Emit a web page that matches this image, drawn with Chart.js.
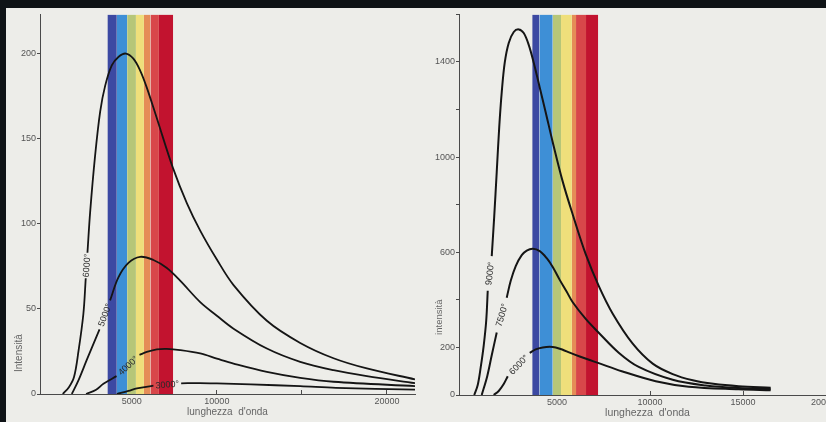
<!DOCTYPE html>
<html>
<head>
<meta charset="utf-8">
<script src="https://cdn.jsdelivr.net/npm/chart.js@4/dist/chart.umd.min.js"></script>
<style>
  html, body { margin: 0; padding: 0; width: 826px; height: 422px; overflow: hidden; background: #0f1316; }
  #page { position: absolute; left: 6px; top: 8px; width: 840px; height: 414px; background: #edede9; }
  #left { position: absolute; left: 0; top: 0; }
  #right { position: absolute; left: 414px; top: 0; }
</style>
</head>
<body>
<div id="page">
  <canvas id="left" width="414" height="414"></canvas>
  <canvas id="right" width="426" height="414"></canvas>
</div>
<script>
// ---- Left panel: black-body curves, 3000°–6000° (wavelength in Å, intensity) ----
// a null intensity marks the break in the curve where its temperature label sits
const leftCurve6000 = [[940,0],[1300,4],[1600,10],[1860,25],[2150,47],[2290,68],[2340,null],[2390,83],[2550,107],[2840,140],[3140,166],[3430,181],[3820,193],[4210,198],[4650,200],[5090,197],[5490,190],[5880,180],[6470,162],[7410,133],[8240,112],[9020,96],[10000,79],[10980,64],[12940,43],[14900,30],[16860,21],[18820,15],[21650,8.6]];
const leftCurve5000 = [[1470,0],[1860,8],[2350,20],[3100,38],[3400,null],[3720,55],[4210,68.5],[4800,77],[5490,80.6],[6270,78.7],[7060,74],[7840,66.6],[9020,54],[10000,46],[10980,38.4],[12940,26.7],[14900,18.9],[16860,14],[18820,10.5],[21650,6.4]];
const leftCurve4000 = [[2310,0],[2900,2.5],[3330,6],[4100,10.5],[4800,null],[5450,23],[5880,24.7],[6470,26.2],[7060,26.5],[7840,25.8],[9020,23.8],[10000,20.8],[10980,17.9],[12940,13],[14900,9.5],[16860,7.2],[21650,4.6]];
const leftCurve3000 = [[4120,0],[4800,1.8],[5300,3.3],[6270,4.9],[7100,null],[7900,6.3],[9000,6.4],[10000,6.2],[12000,5.6],[14900,4.6],[17000,3.6],[21650,2.6]];
const leftCurveNames = ['6000°', '5000°', '4000°', '3000°'];
const leftBandEdges = [3565, 4118, 4724, 5241, 5712, 6094, 6594, 7430];
const leftXTicks = [5000, 10000, 15000, 20000];
const leftXLabels = [5000, 10000, 20000];
const leftYTicks = [0, 50, 100, 150, 200];
const leftYLabels = [0, 50, 100, 150, 200];

// ---- Right panel: black-body curves, 6000°–9000° ----
const rightCurve9000 = [[549,0],[737,42],[898,117],[1060,209],[1194,313],[1275,438],[1380,null],[1490,584],[1624,751],[1759,938],[1893,1126],[2027,1272],[2189,1397],[2404,1480],[2673,1526],[2941,1537],[3210,1522],[3479,1472],[3748,1397],[4070,1293],[4393,1188],[4769,1063],[5307,897],[5844,759],[6543,592],[7242,459],[7995,342],[9070,216],[10145,132],[11220,88],[12300,62],[13400,47],[14768,37],[16489,31]];
const rightCurve7500 = [[952,0],[1248,79],[1490,167],[1759,263],[2030,null],[2296,409],[2511,480],[2780,542],[3103,588],[3371,607],[3694,615],[4070,605],[4447,575],[4769,538],[5145,484],[5522,434],[5844,390],[6543,320],[7242,262],[8317,178],[9393,118],[11220,64],[12994,40],[14768,29],[16489,25]];
const rightCurve6000 = [[1597,0],[1866,17],[2135,46],[2350,79],[2940,null],[3533,177],[3855,192],[4232,200],[4608,203],[4930,200],[5307,190],[5683,178],[6221,162],[6758,147],[7242,134],[8479,100],[10306,58],[12081,35],[14768,24],[16489,20]];
const rightCurveNames = ['9000°', '7500°', '6000°'];
const rightBandEdges = [3667, 4054, 4769, 5215, 5801, 6022, 6559, 7215];
const rightXTicks = [-270, 5000, 10000, 15000, 20000];
const rightXLabels = [5000, 10000, 15000, 20000];
const rightYTicks = [0, 200, 400, 600, 800, 1000, 1200, 1400, 1600];
const rightYLabels = [0, 200, 600, 1000, 1400];

// visible-spectrum stripes, violet to red
const spectrumColors = ['#3c49a2', '#3e8fd6', '#b6c678', '#efdf7b', '#e58d57', '#d8474a', '#c2132f'];

Chart.defaults.font.family = '"Liberation Sans", Arial, sans-serif';
Chart.defaults.color = '#555';

const toPoints = arr => arr.map(([x, y]) => ({ x, y }));

function spectrumDatasets(edges, top) {
  return spectrumColors.map((c, i) => ({
    data: [{ x: edges[i], y: top }, { x: edges[i + 1], y: top }],
    fill: 'origin',
    backgroundColor: c,
    borderWidth: 0,
    pointRadius: 0,
    tension: 0,
    order: 10
  }));
}

function curveDatasets(curves, names, width) {
  return curves.map((c, i) => ({
    data: toPoints(c),
    curveLabel: names[i],
    borderColor: '#151515',
    borderWidth: width,
    pointRadius: 0,
    fill: false,
    spanGaps: false,
    tension: 0.35,
    order: 1
  }));
}

// temperature labels written into the gap of each curve, along its direction
const curveLabels = {
  id: 'curveLabels',
  afterDatasetsDraw(chart) {
    const { ctx, scales: { x, y } } = chart;
    chart.data.datasets.forEach(ds => {
      if (!ds.curveLabel) return;
      const i = ds.data.findIndex(p => p.y === null);
      const a = ds.data[i - 1], b = ds.data[i + 1];
      const ax = x.getPixelForValue(a.x), ay = y.getPixelForValue(a.y);
      const bx = x.getPixelForValue(b.x), by = y.getPixelForValue(b.y);
      ctx.save();
      ctx.translate((ax + bx) / 2, (ay + by) / 2);
      ctx.rotate(Math.atan2(by - ay, bx - ax));
      ctx.font = '9px "Liberation Sans", Arial, sans-serif';
      ctx.fillStyle = '#2b2b2b';
      ctx.textAlign = 'center';
      ctx.textBaseline = 'middle';
      ctx.fillText(ds.curveLabel, 0, 0.5);
      ctx.restore();
    });
  }
};

// vertical axis title, placed low along the intensity axis
const intensityTitle = {
  id: 'intensityTitle',
  afterDraw(chart, args, opts) {
    const { ctx } = chart;
    const y = chart.scales.y;
    ctx.save();
    ctx.translate(opts.x, y.getPixelForValue(opts.at));
    ctx.rotate(-Math.PI / 2);
    ctx.font = opts.font;
    ctx.fillStyle = '#666';
    ctx.textAlign = 'center';
    ctx.textBaseline = 'middle';
    ctx.fillText(opts.text, 0, 0);
    ctx.restore();
  }
};

function makePanel(canvasId, p) {
  const datasets = [
    ...curveDatasets(p.curves, p.names, p.lineWidth),
    ...spectrumDatasets(p.bandEdges, p.yMax)
  ];
  return new Chart(document.getElementById(canvasId), {
    type: 'line',
    data: { datasets },
    plugins: [curveLabels, intensityTitle],
    options: {
      responsive: false,
      animation: false,
      events: [],
      layout: { padding: p.padding },
      plugins: {
        legend: { display: false },
        tooltip: { enabled: false },
        intensityTitle: p.yTitle
      },
      scales: {
        x: {
          type: 'linear',
          min: p.xMin,
          max: p.xMax,
          afterBuildTicks: s => { s.ticks = p.xTicks.map(v => ({ value: v })); },
          afterFit: s => { s.height = p.xAxisHeight; },
          ticks: {
            autoSkip: false,
            maxRotation: 0,
            align: p.xAlign,
            padding: 6,
            font: { size: 9 },
            color: '#555',
            callback: v => (p.xLabels.includes(v) ? String(v) : '')
          },
          grid: { drawOnChartArea: false, drawTicks: true, tickLength: -4, color: '#4a4a4a' },
          border: { display: true, color: '#4a4a4a', width: 1 },
          title: {
            display: true,
            text: "lunghezza  d'onda",
            color: '#666',
            font: { size: p.xTitleSize },
            padding: { top: 0, bottom: p.xTitlePad }
          }
        },
        y: {
          type: 'linear',
          min: 0,
          max: p.yMax,
          afterBuildTicks: s => { s.ticks = p.yTicks.map(v => ({ value: v })); },
          afterFit: s => { s.width = p.yAxisWidth; },
          ticks: {
            autoSkip: false,
            padding: 1,
            font: { size: 9 },
            color: '#555',
            callback: v => (p.yLabels.includes(v) ? String(v) : '')
          },
          grid: { drawOnChartArea: false, drawTicks: true, tickLength: 3, color: '#4a4a4a' },
          border: { display: true, color: '#4a4a4a', width: 1 }
        }
      }
    }
  });
}

makePanel('left', {
  curves: [leftCurve6000, leftCurve5000, leftCurve4000, leftCurve3000],
  names: leftCurveNames,
  lineWidth: 1.8,
  bandEdges: leftBandEdges,
  xMin: -400, xMax: 21650,
  xTicks: leftXTicks, xLabels: leftXLabels, xAlign: 'center',
  yMax: 223,
  yTicks: leftYTicks, yLabels: leftYLabels,
  padding: { top: 4, right: 5, bottom: 0, left: 0 },
  xAxisHeight: 28, yAxisWidth: 34,
  xTitleSize: 10, xTitlePad: 4,
  yTitle: { text: 'Intensità', at: 24, x: 13.5, font: '10px "Liberation Sans", Arial, sans-serif' }
});

makePanel('right', {
  curves: [rightCurve9000, rightCurve7500, rightCurve6000],
  names: rightCurveNames,
  lineWidth: 2,
  bandEdges: rightBandEdges,
  xMin: -270, xMax: 20000,
  xTicks: rightXTicks, xLabels: rightXLabels, xAlign: 'inner',
  yMax: 1600,
  yTicks: rightYTicks, yLabels: rightYLabels,
  padding: { top: 3, right: 10, bottom: 0, left: 0 },
  xAxisHeight: 27, yAxisWidth: 39,
  xTitleSize: 10.5, xTitlePad: 2.5,
  yTitle: { text: 'intensità', at: 327, x: 19.5, font: '9.5px "Liberation Sans", Arial, sans-serif' }
});
</script>
</body>
</html>
